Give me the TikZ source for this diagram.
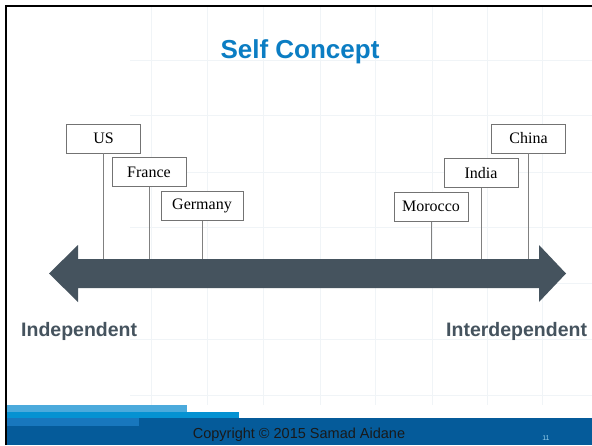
\documentclass[tikz,border=0pt]{standalone}
\usepackage{fontspec}
\setmainfont{Liberation Serif}
\newfontfamily\headfont{Liberation Sans}
\usetikzlibrary{positioning}

\definecolor{slate}{HTML}{45535E}
\definecolor{titleblue}{HTML}{0B7DC3}
\definecolor{footnavy}{HTML}{055B9A}
\definecolor{footmid}{HTML}{0592D2}
\definecolor{footlight}{HTML}{4BAADC}
\definecolor{footblue}{HTML}{1877BD}
\definecolor{gridline}{HTML}{F0F4F7}

\begin{document}
\begin{tikzpicture}[
    x=1pt, y=-1pt,
    node distance=4pt,
    country/.style={rectangle, draw=black!55, fill=white, line width=0.6pt, minimum width=74pt, minimum height=29pt, font=\fontsize{16}{18}\selectfont},
    tick/.style={draw=black!50, line width=0.7pt},
    pole/.style={font=\headfont\bfseries\fontsize{19.5}{22}\selectfont, text=slate, anchor=base west, inner sep=0pt},
  ]

  % page, faint grid and frame
  \useasboundingbox (0,0) rectangle (592,445);
  \fill[white] (0,0) rectangle (592,445);
  \foreach \gx in {151,207,263,320,375,432,487,542}
    \draw[gridline, line width=1pt] (\gx,7) -- (\gx,405);
  \foreach \gy in {60,115,172,227,283,339,395}
    \draw[gridline, line width=1pt] (130,\gy) -- (592,\gy);
  \draw[black, line width=2.3pt] (6.2,445) -- (6.2,6.2) -- (592,6.2);

  % footer bands
  \fill[footnavy] (7,418) rectangle (592,445);
  \fill[footlight] (7,405) rectangle (187,412);
  \fill[footmid] (7,412) rectangle (239,418);
  \fill[footblue] (7,418) rectangle (139,426);

  \node[font=\headfont\bfseries\fontsize{26}{30}\selectfont, text=titleblue, anchor=base] (title) at (300,58) {Self Concept};

  % double-headed scale
  \fill[slate] (49,273.5) -- (78,245) -- (78,259) -- (539,259) -- (539,245) -- (566,273.5)
    -- (539,302) -- (539,288) -- (78,288) -- (78,302) -- cycle;
  \coordinate (shaft) at (0,259);

  % countries, staggered
  \node[country] (us) at (103.5,138.5) {US};
  \node[country, below=of us, xshift=45.5pt] (france) {France};
  \node[country, below=of france, xshift=53pt, minimum width=82pt] (germany) {Germany};
  \node[country] (china) at (528.5,138.5) {China};
  \node[country, below=5pt of china, xshift=-47.5pt] (india) {India};
  \node[country, below=of india, xshift=-50pt] (morocco) {Morocco};

  \foreach \c in {us,france,germany,morocco,india,china}
    \draw[tick] (\c.south) -- (\c.south |- shaft);

  \node[pole] (indep) at (21,336) {Independent};
  \node[pole] (interdep) at (446,336) {Interdependent};

  \node[font=\headfont\fontsize{14.5}{16}\selectfont, text=black!90, anchor=base] (copy) at (299,438) {Copyright © 2015 Samad Aidane};
  \node[font=\headfont\fontsize{7}{8}\selectfont, text=footlight!60!white, anchor=base] (pageno) at (546,440) {11};

\end{tikzpicture}
\end{document}
